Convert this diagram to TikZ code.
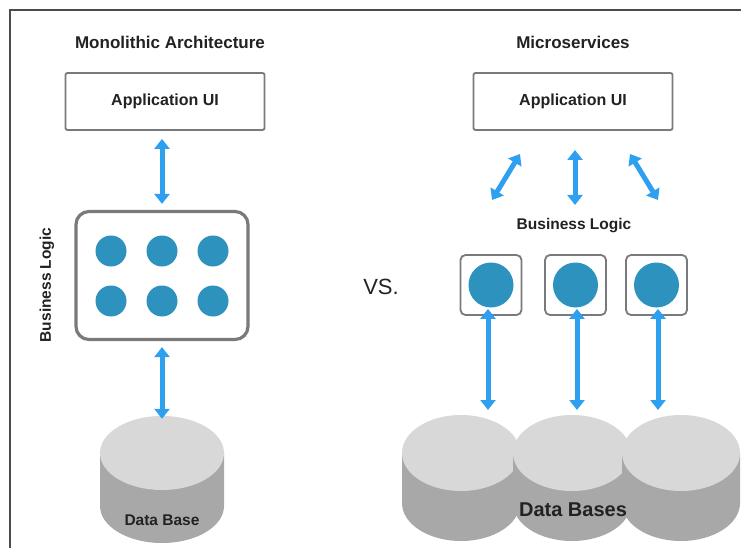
\documentclass[tikz,border=0pt]{standalone}
\usepackage{fontspec}
\setmainfont{Liberation Sans}
\usetikzlibrary{arrows.meta}
\definecolor{arrowblue}{HTML}{2FA0F0}
\definecolor{dotblue}{HTML}{2E92BF}
\definecolor{boxgray}{HTML}{7A7A7A}
\definecolor{cyltop}{HTML}{D8D8D8}
\definecolor{cylside}{HTML}{A8A8A8}
\definecolor{txt}{HTML}{222222}
\tikzset{
  uibox/.style={draw=boxgray,line width=1.8pt,rounded corners=2pt,fill=white,minimum width=199pt,minimum height=57pt,inner sep=0pt,font=\bfseries\fontsize{16}{18}\selectfont,text=txt},
  logicbox/.style={draw=boxgray,line width=3.2pt,rounded corners=13pt,fill=white,minimum width=172pt,minimum height=128pt,inner sep=0pt},
  smallbox/.style={draw=boxgray,line width=1.8pt,rounded corners=5pt,fill=white,minimum width=61pt,minimum height=60pt,inner sep=0pt},
  dot/.style={circle,fill=dotblue,minimum size=31pt,inner sep=0pt},
  bigdot/.style={circle,fill=dotblue,minimum size=45pt,inner sep=0pt},
  dbl/.style={line width=5pt,draw=arrowblue,{Triangle[width=15pt,length=10pt]}-{Triangle[width=15pt,length=10pt]}},
  title/.style={font=\bfseries\fontsize{17}{20}\selectfont,text=txt},
  lbl/.style={font=\bfseries\fontsize{15.5}{18}\selectfont,text=txt},
}
\newcommand{\cyl}[5]{% cx, cy (top center), rx, ry, height
  \fill[cylside] (#1-#3,#2) -- (#1-#3,#2+#5) arc[start angle=180,end angle=0,x radius=#3,y radius=#4] -- (#1+#3,#2) -- cycle;
  \fill[cyltop] (#1,#2) ellipse[x radius=#3,y radius=#4];
}
\begin{document}
\begin{tikzpicture}[x=1pt,y=-1pt]
\useasboundingbox (0,0) rectangle (741,548);
\fill[white] (0,0) rectangle (741,548);
\draw[line width=1.2pt,draw=black!70] (10,548) -- (10,10) -- (741,10);

% Left: monolithic
\node[title] (t1) at (170,42) {Monolithic Architecture};
\node[uibox] (ui1) at (165,101.5) {Application UI};
\node[logicbox] (bl) at (162,275.5) {};
\node[dot] (d1) at (111,251) {};
\node[dot] (d2) at (162,251) {};
\node[dot] (d3) at (213,251) {};
\node[dot] (d4) at (111,301) {};
\node[dot] (d5) at (162,301) {};
\node[dot] (d6) at (213,301) {};
\node[lbl,rotate=90] (bll) at (47,285) {Business Logic};
\cyl{162}{453}{62}{37}{53}
\node[inner sep=0pt,minimum width=124pt,minimum height=74pt] (db1) at (162,453) {};
\node[lbl] (db1l) at (162,520) {Data Base};
\draw[dbl] ([yshift=-8pt]ui1.south -| bl.north) -- ([yshift=6pt]bl.north);
\draw[dbl] ([yshift=-6pt]bl.south) -- ([yshift=-3pt]db1.north -| bl.south);

% VS
\node[font=\fontsize{22}{24}\selectfont,text=txt] (vs) at (381,287) {VS.};

% Right: microservices
\node[title] (t2) at (573,42) {Microservices};
\node[uibox] (ui2) at (573,101.5) {Application UI};
\node[lbl] (bl2) at (574,226) {Business Logic};
\coordinate (la) at (520,154);
\coordinate (lb) at (492,200);
\coordinate (ma) at (575,150);
\coordinate (mb) at (575,205);
\coordinate (ra) at (630,154);
\coordinate (rb) at (658,200);
\draw[dbl] (la) -- (lb);
\draw[dbl] (ma) -- (mb);
\draw[dbl] (ra) -- (rb);
\node[smallbox] (s1) at (491,285) {};
\node[smallbox] (s2) at (575.5,285) {};
\node[smallbox] (s3) at (656.5,285) {};
\node[bigdot] at (s1) {};
\node[bigdot] at (s2) {};
\node[bigdot] at (s3) {};
\cyl{461}{453}{59}{38}{50}
\cyl{572}{453}{59}{38}{50}
\cyl{681}{453}{59}{38}{50}
\node[inner sep=0pt,minimum width=118pt,minimum height=76pt] (c1) at (461,453) {};
\node[inner sep=0pt,minimum width=118pt,minimum height=76pt] (c2) at (572,453) {};
\node[inner sep=0pt,minimum width=118pt,minimum height=76pt] (c3) at (681,453) {};
\node[font=\bfseries\fontsize{20}{22}\selectfont,text=txt] (dbs) at (573,510) {Data Bases};
\draw[dbl] ([yshift=7pt]s1.south -| 488,0) -- (488,410);
\draw[dbl] ([yshift=7pt]s2.south -| 577,0) -- (577,410);
\draw[dbl] ([yshift=7pt]s3.south -| 658,0) -- (658,410);
\end{tikzpicture}
\end{document}
